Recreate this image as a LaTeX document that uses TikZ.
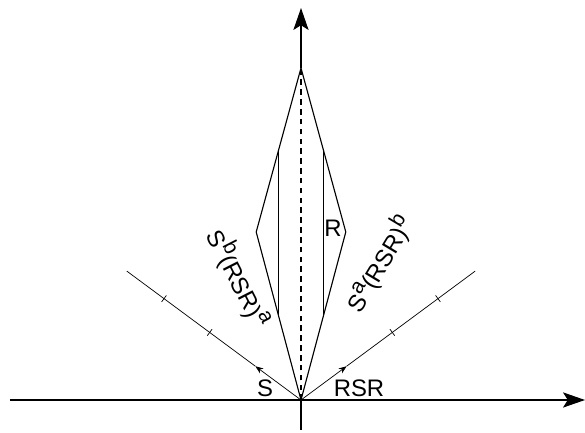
\documentclass[tikz,border=0pt]{standalone}
\usepackage{fontspec}
\setmainfont{Liberation Sans}
\usetikzlibrary{arrows.meta,calc}
\newcommand{\upr}[1]{\raisebox{0.42em}{\fontsize{15}{17}\selectfont #1}}
\tikzset{
  axis/.style={line width=0.8pt,-{Stealth[length=5.5mm,width=3.8mm,inset=1.2mm]}},
  ray/.style={line width=0.5pt},
  kite/.style={line width=0.8pt},
  lbl/.style={inner sep=0pt,font=\fontsize{17}{20}\selectfont}
}
\begin{document}
\begin{tikzpicture}[scale=1.0]
\useasboundingbox (-7.525,-0.825) rectangle (7.1,10);
\coordinate (O) at (0,0);
\coordinate (xl) at (-7.275,0);
\coordinate (xr) at (7.1,0);
\coordinate (yb) at (0,-0.75);
\coordinate (yt) at (0,9.8);
\coordinate (top) at (0,8.3);
\coordinate (lv) at (-1.12,4.2);
\coordinate (rv) at (1.12,4.2);
\coordinate (sv) at (143.5:1.42);
\coordinate (rsrv) at (36.5:1.42);
\coordinate (send) at (143.5:5.42);
\coordinate (rsrend) at (36.5:5.42);
% axes
\draw[axis] (xl) -- (xr);
\draw[line width=0.8pt] (yb) -- (O);
\draw[axis] (top) -- (yt);
% the two generators
\draw[ray,-{Stealth[length=2mm,width=1.5mm]}] (O) -- (sv);
\draw[ray] (sv) -- (send);
\draw[ray,-{Stealth[length=2mm,width=1.5mm]}] (O) -- (rsrv);
\draw[ray] (rsrv) -- (rsrend);
\foreach \k in {2,3} {
  \draw[ray] ($(O)!\k!(sv)$) ++(53.5:0.1) -- ++(233.5:0.2);
  \draw[ray] ($(O)!\k!(rsrv)$) ++(126.5:0.1) -- ++(306.5:0.2);
}
% the kite
\draw[kite] (O) -- (lv) -- (top) -- (rv) -- cycle;
\draw[kite] ($(O)!0.5!(lv)$) -- ($(top)!0.5!(lv)$);
\draw[kite] ($(O)!0.5!(rv)$) -- ($(top)!0.5!(rv)$);
\draw[kite,dash pattern=on 4pt off 3pt] (O) -- (top);
% labels
\node[lbl] (s) at (-0.9,0.3) {S};
\node[lbl] (rsr) at (1.45,0.3) {RSR};
\node[lbl] (r) at (0.8,4.3) {R};
\node[lbl,rotate=-63] (left) at (-1.55,3.05) {S\upr{b}(RSR)\upr{a}};
\node[lbl,rotate=59] (right) at (1.95,3.4) {S\upr{a}(RSR)\upr{b}};
\end{tikzpicture}
\end{document}
